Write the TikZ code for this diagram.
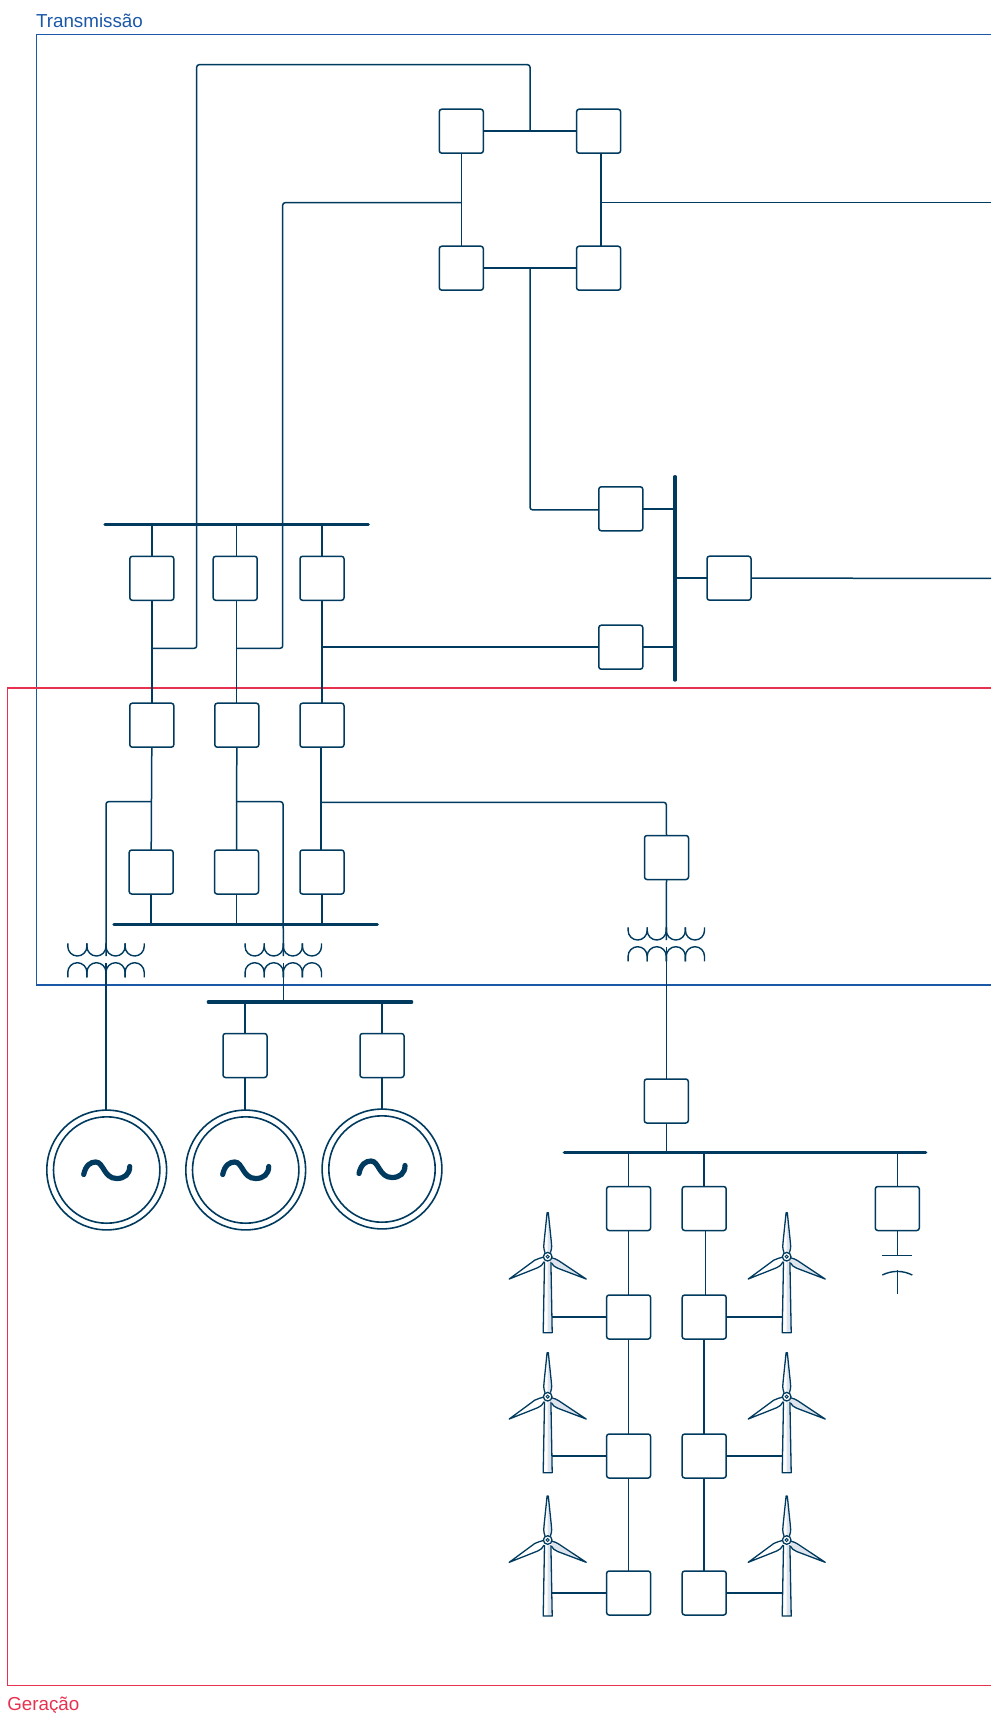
\documentclass[tikz,border=0pt]{standalone}
\usepackage{fontspec}
\setmainfont{Liberation Sans}
\definecolor{ink}{HTML}{003B5F}
\definecolor{tblue}{HTML}{1B58A8}
\definecolor{gred}{HTML}{E8304F}
\definecolor{pale}{HTML}{DFE5EE}
\tikzset{
  wire/.style={draw=ink,line width=1.5pt,rounded corners=2.5pt},
  swbox/.style={draw=ink,fill=white,line width=1.5pt,rounded corners=2.5pt,rectangle,minimum size=44pt,inner sep=0pt,outer sep=0pt},
  busbar/.style={draw=ink,line width=3.2pt,line cap=round},
  genout/.style={draw=ink,fill=white,circle,line width=1.6pt,minimum size=119.8pt,inner sep=0pt,outer sep=0pt},
  genin/.style={draw=ink,circle,line width=1.6pt,minimum size=106.4pt,inner sep=0pt,outer sep=0pt},
  framet/.style={draw=tblue,line width=1.2pt},
  frameg/.style={draw=gred,line width=1.2pt},
  lab/.style={anchor=base west,inner sep=0pt,outer sep=0pt,font=\fontsize{18.8}{22}\selectfont},
  acwave/.pic={
    \draw[ink,line width=5.2pt,line cap=round] (-23,4.5) .. controls (-21,-5) and (-16,-8) .. (-11,-8)
      .. controls (-3,-8) and (-3,8.5) .. (10,8.5) .. controls (18,8.5) and (23,4) .. (23,-3.5);
  },
  xfmr/.pic={
    \foreach \i in {0,1,2,3}{
      \pgfmathsetmacro{\xa}{-38.2+19.1*\i}
      \pgfmathsetmacro{\xb}{\xa+9.55}
      \pgfmathsetmacro{\xc}{\xa+19.1}
      \pgfmathsetmacro{\xd}{\xa+4.28}
      \pgfmathsetmacro{\xe}{\xa+14.82}
      \draw[ink,line width=1.4pt] (\xa,0) -- (\xa,3.15) .. controls (\xa,8.4) and (\xd,12.7) .. (\xb,12.7)
        .. controls (\xe,12.7) and (\xc,8.4) .. (\xc,3.15) -- (\xc,0);
      \draw[ink,line width=1.4pt] (\xa,34) -- (\xa,28.95) .. controls (\xa,23.7) and (\xd,19.4) .. (\xb,19.4)
        .. controls (\xe,19.4) and (\xc,23.7) .. (\xc,28.95) -- (\xc,34);
    }
    \coordinate (-top) at (0,12.7);
    \coordinate (-bot) at (0,20);
  },
  turbine/.pic={
    \coordinate (-l) at (4.4,0);
    \coordinate (-r) at (-4.4,0);
    \fill[pale] (-3.2,5) -- (-4.5,76) -- (4.5,76) -- (3.2,5) -- cycle;
    \fill[white] (-3.2,5) -- (-4.5,76) -- (0,76) -- (0,5) -- cycle;
    \draw[ink,line width=1.3pt,line join=round] (-3.2,5) -- (-4.5,76) -- (4.5,76) -- (3.2,5);
    % top blade
    \fill[white] (0,-44) -- (-3.5,-15) -- (-4,-10) -- (-2.7,-4) -- (0,-4) -- cycle;
    \fill[pale] (0,-44) -- (3.5,-15) -- (4,-10) -- (2.7,-4) -- (0,-4) -- cycle;
    \draw[ink,line width=1.3pt,line join=round] (-2.7,-4) .. controls (-4.5,-9) and (-4,-12) .. (-3.5,-16) -- (-0.6,-44) -- (0.6,-44) -- (3.5,-16) .. controls (4,-12) and (4.5,-9) .. (2.7,-4);
    % right blade
    \draw[ink,fill=pale,line width=1.3pt,line join=round] (4.4,1.2) .. controls (7,2) and (9,2.5) .. (11,4) -- (38.5,22.3) -- (10,11.5) .. controls (7,10.5) and (5,8.5) .. (3.6,6) ;
    % left blade
    \draw[ink,fill=white,line width=1.3pt,line join=round] (-4.4,0.5) .. controls (-7,1.2) and (-10,2) .. (-13,3.5) -- (-38.5,22.3) -- (-10,11) .. controls (-7,9.8) and (-5,8) .. (-3.6,5);
    % hub
    \draw[ink,fill=white,line width=1.3pt] (0,0) circle[radius=4.3pt];
    \draw[ink,fill=pale,line width=0.9pt] (0,0) circle[radius=1.6pt];
  }
}
\begin{document}
\begin{tikzpicture}[x=1pt,y=-1pt]
\useasboundingbox (0,0) rectangle (991,1713);
% frames
\coordinate (ft1) at (991,34.5);
\coordinate (ft2) at (36.3,34.5);
\coordinate (ft3) at (36.3,985);
\coordinate (ft4) at (991,985);
\coordinate (fg1) at (991,688);
\coordinate (fg2) at (7.3,688);
\coordinate (fg3) at (7.3,1685.5);
\coordinate (fg4) at (991,1685.5);
\draw[framet] (ft1) -- (ft2) -- (ft3) -- (ft4);
\draw[frameg] (fg1) -- (fg2) -- (fg3) -- (fg4);
\node[lab,text=tblue] (ltrans) at (36,27.4) {Transmissão};
\node[lab,text=gred] (lger) at (7.3,1710) {Geração};
% ring
\node[swbox] (ra) at (461.3,131.2) {};
\node[swbox] (rb) at (598.6,131.2) {};
\node[swbox] (rc) at (461.3,268.2) {};
\node[swbox] (rd) at (598.6,268.2) {};
% east substation
\node[swbox] (ea) at (620.8,508.8) {};
\node[swbox] (eb) at (620.8,647.2) {};
\node[swbox] (ec) at (729,578.2) {};
\coordinate (eb1) at (675,476.6);
\coordinate (eb2) at (675,680.1);
\draw[busbar] (eb1) -- (eb2);
\coordinate (ee1) at (991,578.3);
\coordinate (ee2) at (991,202.7);
% row boxes
\node[swbox] (pa) at (151.8,578.3) {};
\node[swbox] (pb) at (235.2,578.3) {};
\node[swbox] (pc) at (322,578.3) {};
\node[swbox] (qa) at (151.8,725.2) {};
\node[swbox] (qb) at (236.8,725.2) {};
\node[swbox] (qc) at (322,725.2) {};
\node[swbox] (sa) at (151.2,872) {};
\node[swbox] (sb) at (236.5,872) {};
\node[swbox] (sc) at (322,872) {};
\coordinate (ba1) at (104.9,524.7);
\coordinate (ba2) at (368.4,524.7);
\coordinate (bb1) at (113.9,924.7);
\coordinate (bb2) at (377.4,924.7);
\draw[busbar] (ba1) -- (ba2);
\draw[busbar] (bb1) -- (bb2);
% ring connectors
\coordinate (rt) at (530,131);
\coordinate (rbm) at (530,268.3);
\coordinate (rlm) at (461.3,202.7);
\coordinate (rrm) at (601,202.7);
\draw[wire] (ra.east) -- (rb.west);
\draw[wire] (rc.east) -- (rd.west);
\draw[wire] (ra.south) -- (rc.north);
\draw[wire] (rb.south -| rrm) -- (rd.north -| rrm);
\draw[wire] (rrm) -- (ee2);
% feeders
\coordinate (j1) at (151.7,648.3);
\coordinate (j2) at (236.5,648.3);
\coordinate (j3) at (321.7,647);
\coordinate (k1) at (196.7,64.7);
\coordinate (k2) at (282.7,202.7);
\coordinate (k1b) at (196.7,648.3);
\coordinate (k2b) at (282.7,648.3);
\coordinate (k1c) at (530,64.7);
\draw[wire] (j1) -- (k1b) -- (k1) -- (k1c) -- (rt);
\draw[wire] (j2) -- (k2b) -- (k2) -- (rlm);
\coordinate (eac) at (530,509.8);
\draw[wire] (rbm) -- (eac) -- (ea.west |- eac);
\draw[wire] (ea.east) -- (eb1 |- ea.east);
\draw[wire] (eb.east) -- (eb1 |- eb.east);
\draw[wire] (ec.west) -- (eb1 |- ec.west);
\draw[wire] (ec.east) -- (ee1);
\draw[wire] (j3) -- (eb.west |- j3);
% stems bus 1
\draw[wire] (ba1 -| pa.north) -- (pa.north);
\draw[wire] (pa.south) -- (qa.north);
\coordinate (x2t) at (236.7,524.7);
\draw[wire] (x2t) -- (x2t |- pb.north);
\coordinate (x2b) at (236.5,600);
\draw[wire] (x2b) -- (x2b |- qb.north);
\draw[wire] (ba1 -| pc.north) -- (pc.north);
\draw[wire] (pc.south) -- (qc.north);
% below row 2
\coordinate (x3b) at (320.8,0);
\coordinate (n1) at (151.7,801.7);
\coordinate (n2) at (236.7,801.7);
\coordinate (n3) at (320.8,802.3);
\draw[wire] (qa.south) -- (sa.north);
\draw[wire] (qb.south) -- (sb.north);
\draw[wire] (qc.south -| x3b) -- (sc.north -| x3b);
\draw[wire] (sa.south) -- (bb1 -| sa.south);
\draw[wire] (sb.south) -- (bb1 -| sb.south);
\draw[wire] (sc.south) -- (bb1 -| sc.south);
% transformers
\pic (ta) at (106,943.3) {xfmr};
\pic (tb) at (283.3,943.3) {xfmr};
\pic (tc) at (666.3,927.3) {xfmr};
\coordinate (n1c) at (106,801.7);
\coordinate (n2c) at (283,801.7);
\draw[wire] (n1) -- (n1c) -- (ta-top);
\draw[wire] (n2) -- (n2c) -- (tb-top);
% generators and west bus
\node[swbox] (ga) at (245,1055.5) {};
\node[swbox] (gb) at (382,1055.5) {};
\node[genout] (g1) at (106.7,1170) {};
\node[genin] (g1i) at (106.7,1170) {};
\node[genout] (g2) at (245.7,1170) {};
\node[genin] (g2i) at (245.7,1170) {};
\node[genout] (g3) at (382,1169) {};
\node[genin] (g3i) at (382,1169) {};
\pic at (g1) {acwave};
\pic at (g2) {acwave};
\pic at (g3) {acwave};
\coordinate (bc1) at (208.3,1002);
\coordinate (bc2) at (411.7,1002);
\draw[busbar] (bc1) -- (bc2);
\draw[wire] (ta-bot) -- (ta-bot |- g1.north);
\draw[wire] (tb-bot) -- (tb-bot |- bc1);
\draw[wire] (bc1 -| ga.north) -- (ga.north);
\draw[wire] (ga.south) -- (g2.north -| ga.south);
\draw[wire] (bc1 -| gb.north) -- (gb.north);
\draw[wire] (gb.south) -- (g3.north -| gb.south);
% wind branch
\node[swbox] (wa) at (666.5,857.5) {};
\node[swbox] (wb) at (666.3,1101) {};
\coordinate (n3c) at (666.3,802.3);
\draw[wire] (n3) -- (n3c) -- (wa.north);
\draw[wire] (wa.south) -- (tc-top);
\draw[wire] (tc-bot) -- (wb.north);
\coordinate (bd1) at (564.3,1152.3);
\coordinate (bd2) at (925.7,1152.3);
\draw[busbar] (bd1) -- (bd2);
\draw[wire] (wb.south) -- (bd1 -| wb.south);
\node[swbox] (h1) at (628.6,1208.5) {};
\node[swbox] (h2) at (704.2,1208.5) {};
\node[swbox] (h3) at (897.3,1208.5) {};
\node[swbox] (i1) at (628.6,1317) {};
\node[swbox] (i2) at (704.2,1317) {};
\node[swbox] (m1) at (628.6,1456) {};
\node[swbox] (m2) at (704.2,1456) {};
\node[swbox] (o1) at (628.6,1593) {};
\node[swbox] (o2) at (704.2,1593) {};
\draw[wire] (bd1 -| h1.north) -- (h1.north);
\draw[wire] (bd1 -| h2.north) -- (h2.north);
\draw[wire] (bd1 -| h3.north) -- (h3.north);
\draw[wire] (h1.south) -- (i1.north);
\coordinate (x5) at (705.3,0);
\draw[wire] (h2.south -| x5) -- (i2.north -| x5);
\draw[wire] (i1.south) -- (m1.north);
\draw[wire] (i2.south) -- (m2.north);
\draw[wire] (m1.south) -- (o1.north);
\draw[wire] (m2.south) -- (o2.north);
% capacitor
\coordinate (cp) at (897.3,1255.3);
\coordinate (cq) at (897.3,1270.3);
\coordinate (cr) at (897.3,1294);
\draw[wire] (h3.south) -- (cp);
\draw[ink,line width=1.4pt] (882.3,1255.3) -- (912.3,1255.3);
\draw[ink,line width=1.4pt] (882.3,1275) .. controls (892,1270.2) and (902.6,1270.2) .. (912.3,1275);
\draw[wire] (cq) -- (cr);
% turbines
\pic (wl1) at (547.7,1256.7) {turbine};
\pic (wl2) at (547.7,1396.7) {turbine};
\pic (wl3) at (547.7,1540) {turbine};
\pic (wr1) at (786.7,1256.7) {turbine};
\pic (wr2) at (786.7,1396.7) {turbine};
\pic (wr3) at (786.7,1540) {turbine};
\draw[wire] (i1.west) -- (i1.west -| wl1-l);
\draw[wire] (m1.west) -- (m1.west -| wl2-l);
\draw[wire] (o1.west) -- (o1.west -| wl3-l);
\draw[wire] (i2.east) -- (i2.east -| wr1-r);
\draw[wire] (m2.east) -- (m2.east -| wr2-r);
\draw[wire] (o2.east) -- (o2.east -| wr3-r);
\end{tikzpicture}
\end{document}
